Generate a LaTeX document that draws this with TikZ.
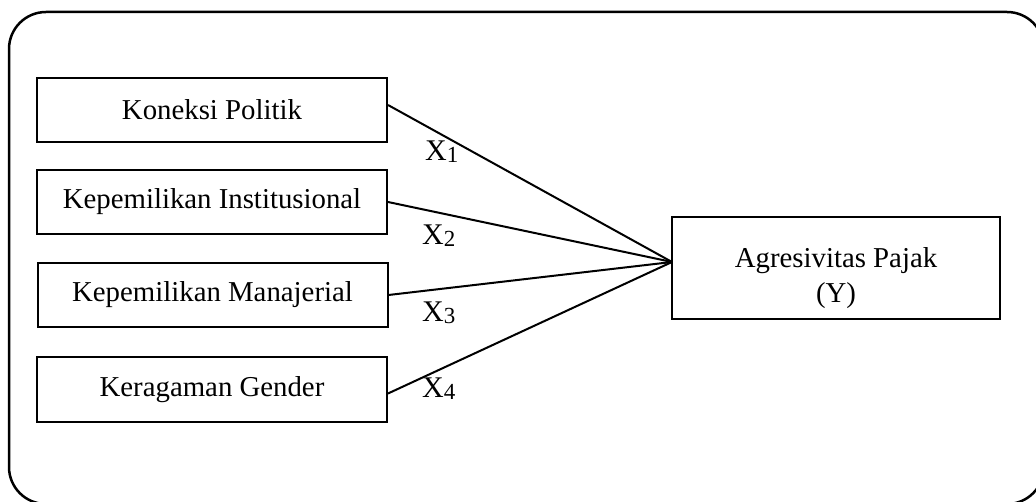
\documentclass[tikz,border=0pt]{standalone}
\usepackage{fontspec}
\setmainfont{Liberation Serif}
\tikzset{
  varbox/.style={draw, line width=2pt, minimum width=350pt, minimum height=64pt, inner sep=0pt, font=\fontsize{28.8}{34}\selectfont},
  ybox/.style={draw, line width=2pt, minimum width=328pt, minimum height=102pt, inner sep=0pt},
  ytext/.style={align=center, inner sep=0pt, font=\fontsize{28.8}{35}\selectfont},
  link/.style={line width=2pt},
  xlab/.style={anchor=base west, inner sep=0pt, font=\fontsize{30}{34}\selectfont}
}
\newcommand{\xsub}[1]{X\raisebox{-2pt}{\fontsize{23}{26}\selectfont #1}}
\begin{document}
\begin{tikzpicture}[x=1pt,y=-1pt]
\useasboundingbox (0,0) rectangle (1036,502);
\begin{scope}
\clip (0,0) rectangle (1036,502);
\draw[line width=2.5pt, rounded corners=37pt] (9,12) rectangle (1044,504);
\end{scope}
\node[varbox] (b1) at (212,110) {Koneksi Politik};
\node[varbox] (b2) at (212,202) {Kepemilikan Institusional};
\node[varbox] (b3) at (212.5,295) {Kepemilikan Manajerial};
\node[varbox] (b4) at (212,389.5) {Keragaman Gender};
\node[ybox] (y) at (836,268) {};
\node[ytext] (yt) at (836,278) {Agresivitas Pajak\\(Y)};
\coordinate (m) at (672,262);
\draw[link] ([yshift=5pt]b1.east) -- (m);
\draw[link] (b2.east) -- (m);
\draw[link] (b3.east) -- (m);
\draw[link] ([yshift=-4pt]b4.east) -- (m);
\node[xlab] (l1) at (425,161) {\xsub{1}};
\node[xlab] (l2) at (422,245) {\xsub{2}};
\node[xlab] (l3) at (422,322) {\xsub{3}};
\node[xlab] (l4) at (422,397) {\xsub{4}};
\end{tikzpicture}
\end{document}
